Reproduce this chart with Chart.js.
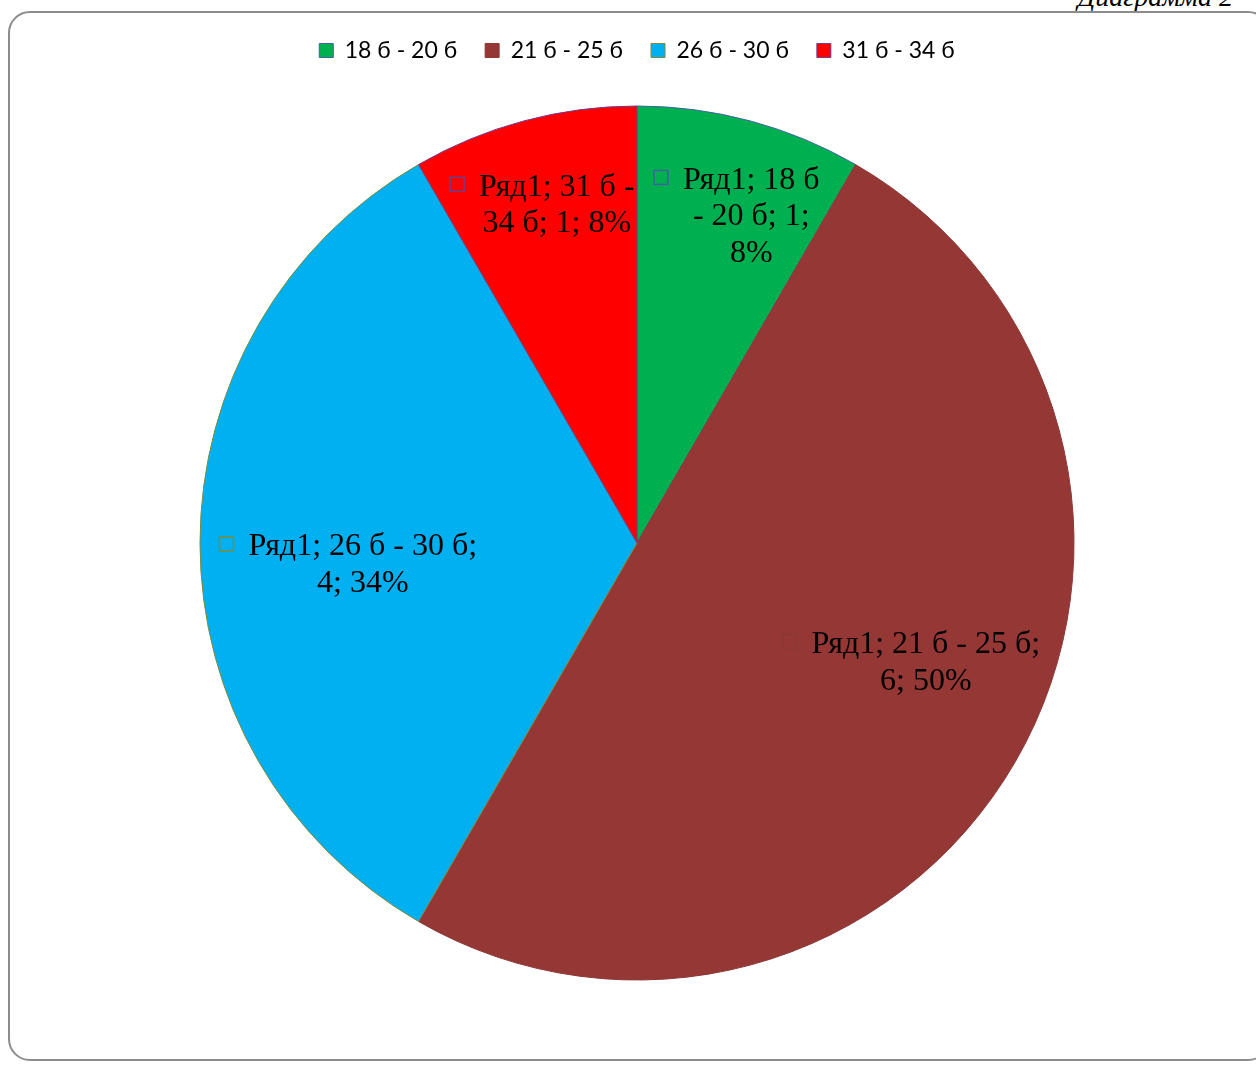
<!DOCTYPE html>
<html lang="ru">
<head>
  <meta charset="UTF-8" />
  <title>Диаграмма 2</title>
  <script src="https://cdn.jsdelivr.net/npm/chart.js"></script>
  <style>
    html, body {
      margin: 0;
      padding: 0;
      background: #fff;
      overflow: hidden;
    }
    #frame {
      position: absolute;
      left: 8px;
      top: 11px;
      width: 1262px;
      height: 1050px;
      border: 2px solid #8c8c8c;
      border-radius: 22px;
      box-sizing: border-box;
    }
    #caption {
      position: absolute;
      right: 23px;
      top: -17px;
      font: italic 28px "Liberation Serif", serif;
      line-height: 28px;
      color: #000;
    }
    #pieChart {
      position: absolute;
      left: 0;
      top: 0;
    }
  </style>
</head>
<body>
  <div id="caption">Диаграмма 2</div>
  <canvas id="pieChart" width="1256" height="1066"></canvas>
  <div id="frame"></div>

  <script>
    const seriesName = 'Ряд1';
    const categories = ['18 б - 20 б', '21 б - 25 б', '26 б - 30 б', '31 б - 34 б'];
    const values = [1, 6, 4, 1];
    const percentLabels = ['8%', '50%', '34%', '8%'];

    const sliceColors = ['#00b050', '#953735', '#00b0f0', '#ff0000'];
    const edgeColors = ['#3f62a0', '#8c3836', '#7f8a3c', '#6a3f92'];

    // where Excel put each data label: fraction of radius, angle shift in degrees
    const labelSpots = [
      { r: 0.795, shift: 4.2, wrap: 145 },
      { r: 0.714, shift: -7.8, wrap: 245 },
      { r: 0.629, shift: -4.2, wrap: 245 },
      { r: 0.798, shift: 1.7, wrap: 162 }
    ];

    function wrapText(ctx, text, maxWidth) {
      const words = text.split(' ');
      const lines = [];
      let line = '';
      words.forEach(w => {
        const test = line ? line + ' ' + w : w;
        if (line && ctx.measureText(test).width > maxWidth) {
          lines.push(line);
          line = w;
        } else {
          line = test;
        }
      });
      if (line) lines.push(line);
      return lines;
    }

    const sliceLabels = {
      id: 'sliceLabels',
      afterDatasetsDraw(chart) {
        const ctx = chart.ctx;
        const meta = chart.getDatasetMeta(0);
        ctx.save();
        ctx.font = '32px "Liberation Serif", serif';
        ctx.fillStyle = '#000';
        ctx.textAlign = 'center';
        ctx.textBaseline = 'middle';
        const lineH = 36.5;
        meta.data.forEach((arc, i) => {
          const p = arc.getProps(['x', 'y', 'startAngle', 'endAngle', 'outerRadius'], true);
          const spot = labelSpots[i];
          const a = (p.startAngle + p.endAngle) / 2 + spot.shift * Math.PI / 180;
          const cx = p.x + Math.cos(a) * p.outerRadius * spot.r;
          const cy = p.y + Math.sin(a) * p.outerRadius * spot.r + 2;
          const text = seriesName + '; ' + categories[i] + '; ' + values[i] + '; ' + percentLabels[i];
          const lines = wrapText(ctx, text, spot.wrap);
          const top = cy - (lines.length - 1) * lineH / 2;
          lines.forEach((ln, k) => {
            ctx.fillText(ln, cx, top + k * lineH);
          });
          // little legend key in front of the first line
          const w0 = ctx.measureText(lines[0]).width;
          ctx.strokeStyle = edgeColors[i];
          ctx.lineWidth = 1.5;
          ctx.strokeRect(cx - w0 / 2 - 29, top - 10, 14, 14);
        });
        ctx.restore();
      }
    };

    new Chart(document.getElementById('pieChart'), {
      type: 'pie',
      data: {
        labels: categories,
        datasets: [{
          label: seriesName,
          data: values,
          backgroundColor: sliceColors,
          borderColor: edgeColors,
          borderWidth: 1,
          radius: 437
        }]
      },
      options: {
        responsive: false,
        animation: false,
        layout: {
          padding: { top: 11, bottom: 52, left: 18, right: 0 }
        },
        plugins: {
          legend: {
            position: 'top',
            labels: {
              color: '#000',
              font: { family: 'Lato', size: 23 },
              boxWidth: 14,
              boxHeight: 14,
              padding: 28
            }
          },
          tooltip: { enabled: false }
        }
      },
      plugins: [sliceLabels]
    });
  </script>
</body>
</html>
